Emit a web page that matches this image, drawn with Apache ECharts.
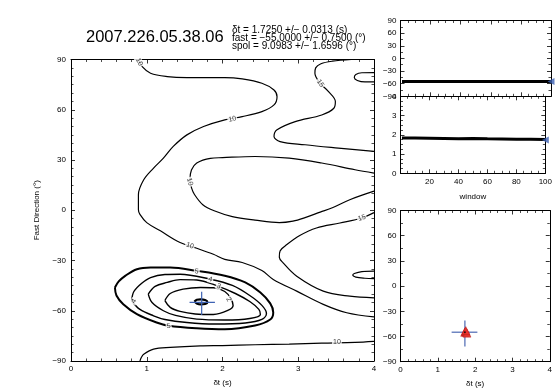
<!DOCTYPE html>
<html>
<head>
<meta charset="utf-8">
<script src="https://cdn.jsdelivr.net/npm/echarts@6/dist/echarts.min.js"></script>
<style>
html, body { margin: 0; padding: 0; background: #fff; }
#chart { width: 555px; height: 392px; }
</style>
</head>
<body>
<div id="chart"></div>
<script>
// energy map contours, [dt (s), fast direction (deg)]
const c10Outer = [[0.89,90],[0.94,85.7],[1.05,81.8],[1.27,79.8],[1.53,79.2],[2.03,79.2],[2.26,78.4],[2.52,75.8],[2.68,71.8],[2.72,67.8],[2.68,62.9],[2.52,58.9],[2.26,55.9],[2.03,54.0],[1.75,50.0],[1.53,45.0],[1.35,38.1],[1.22,31.1],[1.09,25.2],[0.96,18.2],[0.89,9.3],[0.89,0.3],[0.91,-2.5],[1.00,-7.4],[1.18,-12.3],[1.44,-19.3],[1.66,-22.7],[1.88,-26.3],[2.03,-29.3],[2.26,-31.2],[2.52,-36.0],[2.67,-41.3],[2.98,-48.3],[3.33,-56.2],[3.64,-61.2],[4.0,-63.7]];
const c10Loop = [[4.0,22.2],[3.75,24.2],[3.31,28.2],[2.88,31.1],[2.43,32.1],[2.0,31.4],[1.84,31.0],[1.66,28.2],[1.59,24.0],[1.57,18.2],[1.59,13.5],[1.63,9.4],[1.74,3.3],[1.89,-0.3],[2.13,-3.8],[2.43,-5.9],[2.75,-7.4],[2.93,-6.5],[3.09,-4.4],[3.29,-1.1],[3.45,1.5],[3.68,6.3],[4.0,11.4]];
const c15Top = [[3.70,90],[3.45,89.0],[3.30,87.5],[3.23,85.0],[3.22,81.8],[3.29,75.8],[3.40,70.8],[3.49,64.9],[3.47,60.9],[3.31,56.9],[2.96,52.9],[2.72,48.0],[2.68,44.0],[2.76,41.0],[3.09,39.1],[3.53,37.1],[4.0,35.1]];
const c20Top = [[4.0,82.2],[3.84,82.1],[3.76,81.1],[3.74,79.3],[3.78,77.5],[3.88,76.6],[4.0,76.6]];
const c15Low = [[4.0,-1.4],[3.84,-4.6],[3.55,-7.6],[3.24,-10.6],[3.02,-15.1],[2.85,-20.5],[2.76,-24.3],[2.75,-28.0],[2.80,-31.4],[2.98,-39.4],[3.33,-48.3],[3.68,-51.3],[4.0,-52.3]];
const c20Low = [[4.0,-36.3],[3.84,-36.6],[3.74,-37.8],[3.72,-38.7],[3.76,-39.9],[3.88,-40.6],[4.0,-40.8]];
const c10Bottom = [[0.91,-90],[0.93,-87.8],[0.96,-85.9],[1.09,-82.9],[1.31,-81.9],[1.71,-81.0],[2.0,-80.8],[2.43,-80.3],[2.88,-79.9],[3.31,-79.3],[3.75,-78.9],[4.0,-78.3]];
const c5 = [[0.58,-46.1],[0.63,-42.5],[0.72,-39.0],[0.87,-35.2],[1.05,-34.2],[1.31,-34.2],[1.66,-36.2],[2.03,-39.1],[2.30,-43.1],[2.50,-49.1],[2.63,-55.6],[2.67,-61.0],[2.63,-65.2],[2.43,-68.8],[2.03,-71.0],[1.66,-70.4],[1.29,-68.9],[1.13,-67.0],[0.87,-62.0],[0.69,-56.1],[0.60,-50.9],[0.58,-46.1]];
const c4 = [[0.80,-54.0],[0.83,-48.5],[0.93,-43.7],[1.05,-40.2],[1.24,-38.4],[1.44,-38.2],[1.84,-41.2],[2.13,-44.9],[2.36,-50.9],[2.52,-56.8],[2.58,-61.6],[2.52,-65.2],[2.30,-67.3],[1.90,-67.9],[1.53,-67.0],[1.24,-65.2],[1.09,-63.0],[0.91,-59.2],[0.80,-54.0]];
const c3 = [[1.02,-50.1],[1.11,-45.5],[1.27,-43.1],[1.44,-41.4],[1.66,-41.6],[1.93,-45.1],[2.17,-49.7],[2.36,-54.5],[2.48,-59.2],[2.50,-62.2],[2.36,-64.6],[2.03,-65.5],[1.66,-65.0],[1.38,-62.8],[1.22,-60.0],[1.07,-55.1],[1.02,-50.1]];
const c2 = [[1.24,-53.9],[1.31,-49.7],[1.48,-47.1],[1.71,-46.1],[1.88,-46.3],[2.03,-48.5],[2.11,-52.7],[2.14,-56.8],[2.07,-59.8],[1.88,-62.2],[1.64,-61.9],[1.44,-60.4],[1.31,-58.0],[1.24,-53.9]];
const c1 = [[1.63,-54.5],[1.66,-53.4],[1.71,-53.2],[1.77,-53.6],[1.80,-54.8],[1.77,-56.0],[1.71,-56.2],[1.66,-55.6],[1.63,-54.5]];

// contour labels
const labelText = ['10','10','10','10','10','15','15','5','4','3','2','4','5'];
const labelDt = [0.90, 2.13, 1.57, 1.57, 3.51, 3.29, 3.84, 1.66, 1.84, 1.95, 2.08, 0.83, 1.29];
const labelPhi = [88.5, 54.4, 17.0, -21.1, -78.8, 75.8, -4.6, -36.6, -41.3, -45.3, -53.3, -54.3, -69.2];

// best result and error bars
const bestDt = 1.725;
const bestPhi = -55;
const errDt = [1.565, 1.90];
const errPhi = [-48.6, -62.5];

// results per window
const windows = [1, 10, 20, 30, 40, 50, 60, 70, 80, 90, 100];
const winPhi = [-55, -55, -55, -55, -55, -55, -55, -55, -55, -55, -55];
const winDt = [1.83, 1.83, 1.82, 1.81, 1.80, 1.81, 1.79, 1.78, 1.77, 1.77, 1.76];
const winTicks = [20, 40, 60, 80, 100];

// cluster panel
const clusterDt = [1.72, 1.74, 1.76, 1.78, 1.75];
const clusterPhi = [-55, -54, -55, -56, -53];
const clusterErrDt = [1.37, 2.06];
const clusterErrPhi = [-41, -72];

const title = '2007.226.05.38.06';
const resultLines = [
  'δt = 1.7250 +/− 0.0313 (s)',
  'fast = −55.0000 +/− 0.7500 (°)',
  'spol = 9.0983 +/− 1.6596 (°)'
];

const FONT = 'Liberation Sans';
const minus = v => String(v).replace('-', '−');
const labelRotate = [-62, 12, -75, -18, 0, -55, 18, -6, -14, -22, -60, 62, 8];

function frame(grid, pos, extra) {
  return Object.assign({
    gridIndex: grid,
    position: pos,
    type: 'value',
    axisLine: { show: true, onZero: false, lineStyle: { color: '#000', width: 1 } },
    axisTick: { show: true, inside: true, length: 4, lineStyle: { color: '#000', width: 0.8 } },
    minorTick: { show: true, splitNumber: 5, length: 2.5, lineStyle: { color: '#000', width: 0.7 } },
    splitLine: { show: false },
    axisLabel: { show: false }
  }, extra);
}
const tickLabel = (margin, extra) => Object.assign({
  show: true, fontFamily: FONT, fontSize: 8, color: '#000', margin, formatter: minus
}, extra);
const nameStyle = { fontFamily: FONT, fontSize: 8, color: '#000' };
const minor = n => ({ show: true, splitNumber: n, length: 2.5, lineStyle: { color: '#000', width: 0.7 } });

const dtAxis = { min: 0, max: 4, interval: 1 };
const phiAxis = { min: -90, max: 90, interval: 30 };
const winAxis = { min: 0, max: 100, interval: 20, minorTick: minor(4) };

const xAxis = [
  frame(0, 'bottom', Object.assign({}, dtAxis, { axisLabel: tickLabel(4), name: 'δt (s)', nameLocation: 'middle', nameGap: 18, nameTextStyle: nameStyle })),
  frame(0, 'top', dtAxis),
  frame(1, 'bottom', winAxis),
  frame(1, 'top', winAxis),
  frame(2, 'bottom', Object.assign({}, winAxis, {
    axisLabel: tickLabel(4, { showMinLabel: false, formatter: v => (winTicks.includes(v) ? String(v) : '') }),
    name: 'window', nameLocation: 'middle', nameGap: 19, nameTextStyle: nameStyle })),
  frame(2, 'top', winAxis),
  frame(3, 'bottom', Object.assign({}, dtAxis, { axisLabel: tickLabel(4), name: 'δt (s)', nameLocation: 'middle', nameGap: 18, nameTextStyle: nameStyle })),
  frame(3, 'top', dtAxis)
];

const yAxis = [
  frame(0, 'left', Object.assign({}, phiAxis, { minorTick: minor(6), axisLabel: tickLabel(5),
    name: 'Fast Direction (°)', nameLocation: 'middle', nameGap: 30, nameRotate: 90, nameTextStyle: nameStyle })),
  frame(0, 'right', Object.assign({}, phiAxis, { minorTick: minor(6) })),
  frame(1, 'left', Object.assign({}, phiAxis, { minorTick: minor(2), axisLabel: tickLabel(4) })),
  frame(1, 'right', Object.assign({}, phiAxis, { minorTick: minor(2) })),
  frame(2, 'left', { min: 0, max: 4, interval: 1, minorTick: minor(4), axisLabel: tickLabel(4) }),
  frame(2, 'right', { min: 0, max: 4, interval: 1, minorTick: minor(4) }),
  frame(3, 'left', Object.assign({}, phiAxis, { minorTick: minor(2), axisLabel: tickLabel(4) })),
  frame(3, 'right', Object.assign({}, phiAxis, { minorTick: minor(2) }))
];

const contourLine = (data, width) => ({
  type: 'line', xAxisIndex: 0, yAxisIndex: 0, data, showSymbol: false, smooth: 0.35,
  lineStyle: { color: '#000', width }, silent: true, z: 2
});
const seg = (data, xi, yi, color, width) => ({
  type: 'line', xAxisIndex: xi, yAxisIndex: yi, data, showSymbol: false,
  lineStyle: { color, width }, silent: true, z: 4
});

const series = [
  contourLine(c10Outer, 1.2), contourLine(c10Loop, 1.2), contourLine(c15Top, 1.2), contourLine(c20Top, 1.2),
  contourLine(c15Low, 1.2), contourLine(c20Low, 1.2), contourLine(c10Bottom, 1.2),
  contourLine(c5, 2), contourLine(c4, 1.4), contourLine(c3, 1.4), contourLine(c2, 1.4), contourLine(c1, 2.2),
  {
    type: 'scatter', xAxisIndex: 0, yAxisIndex: 0, symbolSize: 0, silent: true, z: 5,
    data: labelText.map((t, i) => ({
      value: [labelDt[i], labelPhi[i]],
      label: { show: true, position: 'inside', formatter: t, rotate: labelRotate[i],
        fontFamily: FONT, fontSize: 7, color: '#000', backgroundColor: '#fff', padding: [0, 1] }
    }))
  },
  seg([[errDt[0], bestPhi], [errDt[1], bestPhi]], 0, 0, '#3d62b3', 1.2),
  seg([[bestDt, errPhi[0]], [bestDt, errPhi[1]]], 0, 0, '#3d62b3', 1.2),
  // windows panels
  seg(windows.map((w, i) => [w, winPhi[i]]), 2, 2, '#000', 3),
  seg(windows.map((w, i) => [w, winDt[i]]), 4, 4, '#000', 3),
  {
    type: 'scatter', xAxisIndex: 2, yAxisIndex: 2, data: [[100, bestPhi]], symbol: 'triangle', symbolRotate: 90,
    symbolSize: 7, itemStyle: { color: '#3d62b3' }, silent: true, z: 6
  },
  {
    type: 'scatter', xAxisIndex: 4, yAxisIndex: 4, data: [[100, bestDt]], symbol: 'triangle', symbolRotate: 90,
    symbolSize: 7, itemStyle: { color: '#3d62b3' }, silent: true, z: 6
  },
  // cluster panel
  seg([[clusterErrDt[0], bestPhi], [clusterErrDt[1], bestPhi]], 6, 6, '#6f86c2', 1.5),
  seg([[bestDt, clusterErrPhi[0]], [bestDt, clusterErrPhi[1]]], 6, 6, '#6f86c2', 1.5),
  {
    type: 'scatter', xAxisIndex: 6, yAxisIndex: 6, data: clusterDt.map((d, i) => [d, clusterPhi[i]]),
    symbol: 'triangle', symbolSize: 8, itemStyle: { color: '#e8352e', borderColor: '#b01818', borderWidth: 0.6 },
    silent: true, z: 6
  },
  {
    type: 'scatter', xAxisIndex: 6, yAxisIndex: 6, data: [[bestDt, bestPhi]], symbolSize: 2,
    itemStyle: { color: '#000' }, silent: true, z: 7
  }
];

const chart = echarts.init(document.getElementById('chart'), null, { renderer: 'canvas' });
chart.setOption({
  animation: false,
  backgroundColor: '#fff',
  title: [
    { text: title, left: 81, top: 24, textStyle: { fontFamily: FONT, fontSize: 16.5, fontWeight: 'normal', color: '#000' } },
    { text: resultLines.join('\n'), left: 227, top: 21,
      textStyle: { fontFamily: FONT, fontSize: 10, fontWeight: 'normal', color: '#000', lineHeight: 8.2 } }
  ],
  grid: [
    { left: 71, top: 59.5, width: 303, height: 302 },
    { left: 400.5, top: 20.5, width: 150.5, height: 75.8 },
    { left: 400.5, top: 96.3, width: 150.5, height: 77 },
    { left: 400.5, top: 210.5, width: 151, height: 151.2 }
  ],
  xAxis,
  yAxis,
  series
});
</script>
</body>
</html>
